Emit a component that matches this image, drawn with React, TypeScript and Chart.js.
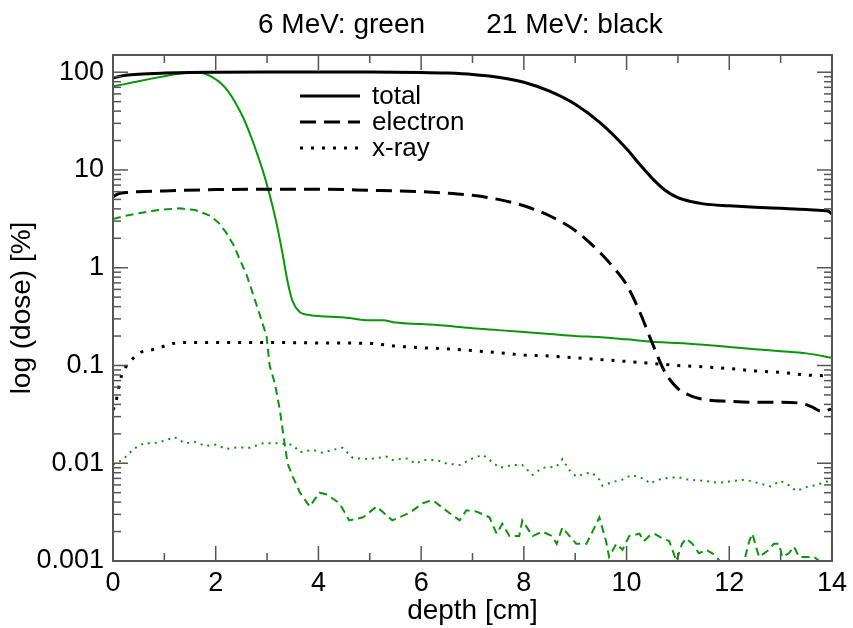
import { useEffect, useRef } from 'react';
import { Chart, registerables } from 'chart.js';

Chart.register(...registerables);

const FONT = '"Liberation Sans", Arial, Helvetica, sans-serif';
const BLACK = '#000000';
const GREEN = '#0a960a';
const FRAME = '#555555';

const titleLeft = '6 MeV: green';
const titleRight = '21 MeV: black';
const xTitle = 'depth [cm]';
const yTitle = 'log (dose) [%]';

const xMin = 0;
const xMax = 14;
const yMin = 0.001;
const yMax = 150;
const yTickValues = [0.001, 0.01, 0.1, 1, 10, 100];
const yTickLabels = ['0.001', '0.01', '0.1', '1', '10', '100'];

// 21 MeV (black)
const total21Depth = [0, 0.1, 0.25, 0.5, 1, 1.5, 2, 3, 4, 5, 6, 6.5, 7, 7.5, 8, 8.5, 9, 9.5, 10, 10.25, 10.5, 10.75, 11, 11.25, 11.5, 12, 12.5, 13, 13.5, 13.8, 13.92, 14];
const total21Dose = [87, 90, 93, 95.5, 98, 99.5, 100, 100.5, 100.5, 100.5, 99.5, 98, 95, 89, 79, 64, 47, 30, 16.5, 11.5, 8.2, 6.2, 5.2, 4.75, 4.5, 4.3, 4.15, 4.05, 3.95, 3.85, 3.8, 3.55];

const electron21Depth = [0, 0.1, 0.3, 1, 2, 3, 4, 5, 6, 6.5, 7, 7.5, 8, 8.5, 9, 9.5, 9.75, 10, 10.25, 10.5, 10.75, 11, 11.25, 11.5, 12, 12.5, 13, 13.4, 13.6, 13.8, 14];
const electron21Dose = [5.3, 5.7, 5.9, 6.1, 6.3, 6.35, 6.35, 6.2, 6.0, 5.8, 5.5, 5.0, 4.3, 3.4, 2.4, 1.4, 1.0, 0.67, 0.36, 0.17, 0.085, 0.058, 0.049, 0.045, 0.043, 0.042, 0.042, 0.041, 0.038, 0.034, 0.036];

const xray21Depth = [0, 0.06, 0.1, 0.17, 0.3, 0.43, 0.52, 0.76, 0.95, 1.17, 1.5, 2, 3, 4, 5, 5.5, 6, 6.5, 7, 7.5, 8, 8.5, 9, 9.5, 10, 10.5, 11, 11.5, 12, 12.5, 13, 13.5, 14];
const xray21Dose = [0.035, 0.043, 0.056, 0.08, 0.105, 0.123, 0.135, 0.145, 0.155, 0.168, 0.172, 0.172, 0.172, 0.17, 0.168, 0.158, 0.152, 0.148, 0.142, 0.135, 0.128, 0.125, 0.12, 0.115, 0.11, 0.105, 0.1, 0.097, 0.093, 0.088, 0.085, 0.08, 0.078];

// 6 MeV (green)
const total6Depth = [0, 0.25, 0.5, 0.75, 1, 1.25, 1.5, 1.65, 1.8, 1.95, 2.1, 2.25, 2.4, 2.55, 2.7, 2.8, 2.9, 3.0, 3.1, 3.2, 3.3, 3.4, 3.5, 3.64, 3.8, 4, 4.5, 5, 5.25, 5.5, 6, 6.5, 7, 7.5, 8, 8.5, 9, 9.5, 10, 10.5, 11, 11.5, 12, 12.5, 13, 13.5, 14];
const total6Dose = [72, 76, 81, 86, 91, 96, 99, 99.5, 96, 88, 77, 63, 47, 33, 21, 15, 10.5, 7, 4.4, 2.6, 1.4, 0.72, 0.45, 0.35, 0.33, 0.32, 0.31, 0.29, 0.29, 0.275, 0.265, 0.255, 0.24, 0.23, 0.22, 0.21, 0.2, 0.195, 0.185, 0.175, 0.17, 0.163, 0.155, 0.147, 0.14, 0.133, 0.12];

const electron6Depth = [0, 0.25, 0.5, 0.75, 1, 1.3, 1.6, 1.89, 2.05, 2.2, 2.35, 2.47, 2.6, 2.72, 2.85, 2.99, 3.05, 3.15, 3.25, 3.3, 3.4, 3.5, 3.64, 3.83, 4.02, 4.16, 4.41, 4.6, 4.87, 5.13, 5.44, 5.77, 6.03, 6.22, 6.42, 6.55, 6.75, 6.88, 7.08, 7.33, 7.47, 7.58, 7.72, 7.91, 7.97, 8.17, 8.36, 8.55, 8.64, 8.75, 8.89, 9.02, 9.22, 9.41, 9.47, 9.6, 9.66, 9.8, 9.92, 10.05, 10.25, 10.34, 10.44, 10.54, 10.7, 10.83, 10.97, 11.08, 11.16, 11.28, 11.41, 11.55, 11.67, 11.74, 12.0, 12.29, 12.39, 12.45, 12.52, 12.58, 12.68, 12.77, 12.87, 12.97, 13.03, 13.16, 13.26, 13.36, 13.45, 13.65, 13.75, 13.94, 14];
const electron6Dose = [3.15, 3.4, 3.6, 3.8, 3.95, 4.05, 3.9, 3.4, 2.9, 2.3, 1.7, 1.21, 0.85, 0.55, 0.34, 0.2, 0.1, 0.066, 0.035, 0.0225, 0.0099, 0.0073, 0.005, 0.0036, 0.005, 0.0048, 0.0039, 0.0026, 0.0028, 0.0036, 0.0026, 0.0031, 0.0039, 0.0042, 0.0035, 0.0031, 0.0026, 0.0033, 0.0032, 0.0028, 0.0019, 0.0024, 0.0018, 0.0018, 0.0026, 0.0018, 0.002, 0.0018, 0.0015, 0.0022, 0.0018, 0.0015, 0.0015, 0.0024, 0.0028, 0.0016, 0.0011, 0.0015, 0.0013, 0.0018, 0.0019, 0.0016, 0.0018, 0.0019, 0.0017, 0.0016, 0.001, 0.0015, 0.0017, 0.0015, 0.0012, 0.0013, 0.0012, 0.0011, 0.0008, 0.001, 0.0016, 0.0019, 0.0014, 0.0011, 0.0012, 0.0013, 0.0015, 0.0015, 0.0011, 0.0012, 0.0014, 0.0011, 0.0011, 0.0011, 0.001, 0.001, 0.00095];

const xray6Depth = [0, 0.2, 0.4, 0.6, 0.8, 1.0, 1.2, 1.4, 1.6, 1.8, 2.0, 2.2, 2.4, 2.66, 2.92, 3.19, 3.5, 3.64, 3.89, 4.08, 4.28, 4.47, 4.67, 5.0, 5.33, 5.44, 5.72, 5.9, 6.03, 6.3, 6.5, 6.75, 7.0, 7.2, 7.39, 7.53, 7.78, 7.97, 8.17, 8.36, 8.63, 8.75, 8.89, 9.02, 9.22, 9.33, 9.47, 9.53, 9.72, 9.92, 10.1, 10.38, 10.44, 10.7, 11.0, 11.2, 11.5, 11.8, 12.0, 12.3, 12.6, 12.8, 13.0, 13.2, 13.3, 13.5, 13.7, 13.9, 14];
const xray6Dose = [0.0096, 0.011, 0.014, 0.016, 0.016, 0.017, 0.0185, 0.016, 0.0165, 0.015, 0.0155, 0.014, 0.0145, 0.0144, 0.016, 0.016, 0.0154, 0.013, 0.0137, 0.0128, 0.0137, 0.0144, 0.0113, 0.011, 0.0117, 0.0108, 0.0112, 0.0099, 0.0108, 0.0108, 0.0099, 0.0096, 0.0112, 0.0122, 0.0102, 0.009, 0.0096, 0.0096, 0.0076, 0.009, 0.0092, 0.011, 0.0085, 0.0073, 0.0079, 0.008, 0.0068, 0.0059, 0.0064, 0.0068, 0.0076, 0.0068, 0.0062, 0.007, 0.0072, 0.0068, 0.0066, 0.0063, 0.0065, 0.0068, 0.0062, 0.0058, 0.0066, 0.0058, 0.0052, 0.0057, 0.006, 0.0065, 0.0062];

const toPoints = (xs: number[], ys: number[]) => xs.map((x, i) => ({ x, y: ys[i] }));

const frameTicks = {
  id: 'frameTicks',
  afterDatasetsDraw(chart: any) {
    const { ctx, chartArea, scales } = chart;
    const { left, right, top, bottom } = chartArea;
    const xs = scales.x;
    const ys = scales.y;
    ctx.save();
    ctx.strokeStyle = FRAME;
    ctx.lineWidth = 1.5;
    ctx.setLineDash([]);
    const seg = (x1: number, y1: number, x2: number, y2: number) => {
      ctx.beginPath();
      ctx.moveTo(x1, y1);
      ctx.lineTo(x2, y2);
      ctx.stroke();
    };
    for (let v = xMin; v <= xMax; v += 1) {
      const px = xs.getPixelForValue(v);
      const len = v % 2 === 0 ? 15 : 8;
      seg(px, bottom, px, bottom - len);
      seg(px, top, px, top + len);
    }
    for (let d = -3; d <= 2; d++) {
      for (let m = 1; m <= 9; m++) {
        const v = m * Math.pow(10, d);
        if (v > yMax) break;
        const py = ys.getPixelForValue(v);
        const len = m === 1 ? 15 : 8;
        seg(left, py, left + len, py);
        seg(right, py, right - len, py);
      }
    }
    ctx.lineWidth = 2;
    ctx.strokeRect(left, top, right - left, bottom - top);
    ctx.restore();
  },
};

const legendAndTitle = {
  id: 'legendAndTitle',
  afterDraw(chart: any) {
    const { ctx, chartArea } = chart;
    const { left, right } = chartArea;
    ctx.save();
    const items = chart.data.datasets.filter((d: any) => d.legendLabel);
    const lx = left + 187;
    items.forEach((d: any, i: number) => {
      const ly = chartArea.top + 41 + i * 26;
      ctx.strokeStyle = d.borderColor;
      ctx.lineWidth = d.borderWidth;
      ctx.lineCap = 'butt';
      ctx.setLineDash(d.borderDash || []);
      ctx.beginPath();
      ctx.moveTo(lx, ly);
      ctx.lineTo(lx + 60, ly);
      ctx.stroke();
      ctx.setLineDash([]);
      ctx.fillStyle = BLACK;
      ctx.font = `26px ${FONT}`;
      ctx.textBaseline = 'middle';
      ctx.textAlign = 'left';
      ctx.fillText(d.legendLabel, lx + 72, ly + 1);
    });
    const mid = (left + right) / 2;
    ctx.font = `28px ${FONT}`;
    ctx.fillStyle = BLACK;
    ctx.textBaseline = 'alphabetic';
    ctx.textAlign = 'center';
    ctx.fillText(titleLeft, mid - 131, 33);
    ctx.fillText(titleRight, mid + 102, 33);
    ctx.restore();
  },
};

export default function App() {
  const ref = useRef<HTMLCanvasElement | null>(null);

  useEffect(() => {
    const canvas = ref.current;
    if (!canvas) return;
    const chart = new Chart(canvas, {
      type: 'line',
      data: {
        datasets: [
          {
            label: 'total 21 MeV',
            legendLabel: 'total',
            data: toPoints(total21Depth, total21Dose),
            borderColor: BLACK,
            borderWidth: 3,
            cubicInterpolationMode: 'monotone',
            pointRadius: 0,
          },
          {
            label: 'electron 21 MeV',
            legendLabel: 'electron',
            data: toPoints(electron21Depth, electron21Dose),
            borderColor: BLACK,
            borderWidth: 3,
            borderDash: [16, 8],
            cubicInterpolationMode: 'monotone',
            pointRadius: 0,
          },
          {
            label: 'x-ray 21 MeV',
            legendLabel: 'x-ray',
            data: toPoints(xray21Depth, xray21Dose),
            borderColor: BLACK,
            borderWidth: 3,
            borderDash: [3, 8],
            cubicInterpolationMode: 'monotone',
            pointRadius: 0,
          },
          {
            label: 'total 6 MeV',
            data: toPoints(total6Depth, total6Dose),
            borderColor: GREEN,
            borderWidth: 2,
            cubicInterpolationMode: 'monotone',
            pointRadius: 0,
          },
          {
            label: 'electron 6 MeV',
            data: toPoints(electron6Depth, electron6Dose),
            borderColor: GREEN,
            borderWidth: 2,
            borderDash: [8, 5],
            tension: 0,
            pointRadius: 0,
          },
          {
            label: 'x-ray 6 MeV',
            data: toPoints(xray6Depth, xray6Dose),
            borderColor: GREEN,
            borderWidth: 2,
            borderDash: [2, 5],
            tension: 0,
            pointRadius: 0,
          },
        ] as any,
      },
      options: {
        animation: false,
        responsive: false,
        maintainAspectRatio: false,
        layout: { padding: { top: 55, right: 20, left: 0, bottom: 0 } },
        plugins: {
          legend: { display: false },
          title: { display: false },
          tooltip: { enabled: false },
        },
        scales: {
          x: {
            type: 'linear',
            min: xMin,
            max: xMax,
            grid: { display: false, drawTicks: false },
            border: { display: false },
            ticks: {
              stepSize: 2,
              color: BLACK,
              font: { family: FONT, size: 27 },
              padding: 6,
              maxRotation: 0,
              autoSkip: false,
            },
            title: {
              display: true,
              text: xTitle,
              color: BLACK,
              font: { family: FONT, size: 28 },
              padding: { top: 0, bottom: 0 },
            },
            afterFit: (scale: any) => {
              scale.height = 67;
            },
          },
          y: {
            type: 'logarithmic',
            min: yMin,
            max: yMax,
            grid: { display: false, drawTicks: false },
            border: { display: false },
            ticks: {
              color: BLACK,
              font: { family: FONT, size: 27 },
              padding: 9,
              autoSkip: false,
              callback: (v: any) => {
                const i = yTickValues.findIndex((t) => Math.abs(t - v) / t < 1e-6);
                return i >= 0 ? yTickLabels[i] : '';
              },
            },
            afterBuildTicks: (scale: any) => {
              scale.ticks = yTickValues.map((v) => ({ value: v }));
            },
            title: {
              display: true,
              text: yTitle,
              color: BLACK,
              font: { family: FONT, size: 28 },
              padding: { top: 5, bottom: 0 },
            },
            afterFit: (scale: any) => {
              scale.width = 113;
            },
          },
        },
      },
      plugins: [frameTicks, legendAndTitle],
    });
    return () => chart.destroy();
  }, []);

  return (
    <div style={{ position: 'absolute', left: 0, top: 0, width: 853, height: 628, background: '#fff' }}>
      <canvas ref={ref} width={853} height={628} style={{ display: 'block' }} />
    </div>
  );
}
